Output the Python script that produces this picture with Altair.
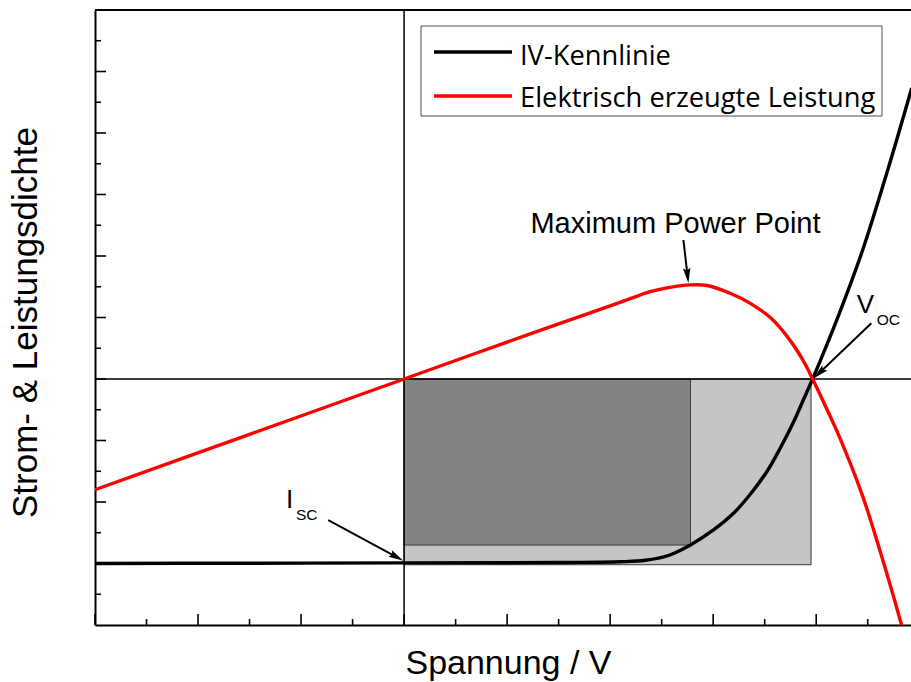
import math
import altair as alt
import pandas as pd

# IV characteristic of the solar cell (voltage, current density; arbitrary units)
iv_voltage = [-3.0, -1.5, 0.0, 1.0, 1.6, 2.099, 2.342, 2.566, 2.779, 3.003, 3.197, 3.362,
              3.528, 3.654, 3.780, 3.878, 3.965, 4.218, 4.451, 4.694, 4.927]
iv_current = [-3.00, -2.995, -2.99, -2.987, -2.983, -2.972, -2.948, -2.870, -2.699, -2.455,
              -2.184, -1.870, -1.488, -1.114, -0.699, -0.33, 0.0, 1.04, 2.098, 3.398, 4.732]

# Electrically generated power density
p_voltage = [-3.0, -1.5, 0.0, 1.0, 2.0, 2.2, 2.39, 2.58, 2.78, 2.94, 3.17, 3.36,
             3.56, 3.75, 3.88, 3.965, 4.07, 4.22, 4.45, 4.69, 4.82, 4.90]
p_power = [-1.80, -0.90, 0.0, 0.60, 1.19, 1.31, 1.42, 1.49, 1.53, 1.52, 1.39, 1.23,
           0.99, 0.62, 0.28, 0.0, -0.37, -0.92, -1.90, -3.19, -3.95, -4.45]

series_names = ["IV-Kennlinie", "Elektrisch erzeugte Leistung"]

# Characteristic points
v_oc, j_sc = 3.95, -3.02
v_mpp, j_mpp = 2.78, -2.70

# Tick positions
x_major = [-3, -2, -1, 0, 1, 2, 3, 4]
x_minor = [-2.5, -1.5, -0.5, 0.5, 1.5, 2.5, 3.5, 4.5]
y_major = [-3, -2, -1, 0, 1, 2, 3, 4, 5]
y_minor = [-3.5, -2.5, -1.5, -0.5, 0.5, 1.5, 2.5, 3.5, 4.5, 5.5]

X_DOMAIN = [-3, 4.92]
Y_DOMAIN = [-4, 6]
W, H = 816, 615
PX_X = W / (X_DOMAIN[1] - X_DOMAIN[0])
PX_Y = H / (Y_DOMAIN[1] - Y_DOMAIN[0])

FONT = "Liberation Sans"
LEGEND_FONT = "Open Sans"

xscale = alt.Scale(domain=X_DOMAIN, nice=False, zero=False)
yscale = alt.Scale(domain=Y_DOMAIN, nice=False, zero=False)
xaxis = alt.Axis(title="Spannung / V", labels=False, ticks=False, grid=False,
                 domainColor="black", domainWidth=2, titleFont=FONT, titleFontSize=34,
                 titleFontWeight="normal", titleColor="black",
                 titleBaseline="alphabetic", titleY=48, titleAlign="center", titleX=413)
yaxis = alt.Axis(title="Strom- & Leistungsdichte", labels=False, ticks=False, grid=False,
                 domainColor="black", domainWidth=2, titleFont=FONT, titleFontSize=35,
                 titleFontWeight="normal", titleColor="black", titleAngle=270,
                 titleBaseline="alphabetic", titleAlign="center", titleX=-59, titleY=312)


def X(field):
    return alt.X(field, type="quantitative", scale=xscale, axis=xaxis)


def Y(field):
    return alt.Y(field, type="quantitative", scale=yscale, axis=yaxis)


def heading(v0, j0, v1, j1):
    dx = (v1 - v0) * PX_X
    dy = -(j1 - j0) * PX_Y
    return math.degrees(math.atan2(dx, -dy)) % 360


one = pd.DataFrame({"k": [0]})

# Power rectangles: V_oc x I_sc and V_mpp x I_mpp
rect_oc = alt.Chart(pd.DataFrame({"v0": [0.0], "v1": [v_oc], "j0": [0.0], "j1": [j_sc]})).mark_rect(
    fill="#c5c5c5", stroke="#3a3a3a", strokeWidth=1
).encode(x=X("v0"), x2="v1", y=Y("j0"), y2="j1")
rect_mpp = alt.Chart(pd.DataFrame({"v0": [0.0], "v1": [v_mpp], "j0": [0.0], "j1": [j_mpp]})).mark_rect(
    fill="#838383", stroke="#3a3a3a", strokeWidth=1
).encode(x=X("v0"), x2="v1", y=Y("j0"), y2="j1")

zero_h = alt.Chart(pd.DataFrame({"j": [0.0]})).mark_rule(color="black", strokeWidth=1.5).encode(y=Y("j"))
zero_v = alt.Chart(pd.DataFrame({"v": [0.0]})).mark_rule(color="black", strokeWidth=1.5).encode(x=X("v"))

iv_line = alt.Chart(pd.DataFrame({"v": iv_voltage, "j": iv_current})).mark_line(
    color="black", strokeWidth=3.4, interpolate="catmull-rom", clip=True
).encode(x=X("v"), y=Y("j"), order="v:Q")

p_line = alt.Chart(pd.DataFrame({"v": p_voltage, "j": p_power})).mark_line(
    color="#ff0000", strokeWidth=3.4, interpolate="catmull-rom", clip=True
).encode(x=X("v"), y=Y("j"), order="v:Q")

# Annotation arrows: shaft start -> arrowhead centre
arrows = [
    (2.711, 2.260, 2.751, 1.681),     # Maximum Power Point
    (4.535, 0.906, 4.030, 0.096),     # V_oc
    (-0.736, -2.293, -0.071, -2.896), # I_sc
]
HEAD = "M0,-1L0.5,1L0,0.7L-0.5,1Z"
arrow_layers = []
for v0, j0, v1, j1 in arrows:
    df = pd.DataFrame({"v0": [v0], "j0": [j0], "v1": [v1], "j1": [j1]})
    arrow_layers.append(
        alt.Chart(df).mark_rule(color="black", strokeWidth=2).encode(
            x=X("v0"), y=Y("j0"), x2="v1", y2="j1")
    )
    arrow_layers.append(
        alt.Chart(df).mark_point(shape=HEAD, filled=True, color="black", opacity=1,
                                 size=225, strokeWidth=0,
                                 angle=heading(v0, j0, v1, j1)).encode(x=X("v1"), y=Y("j1"))
    )


def label(text, v, j, size, align="left"):
    df = pd.DataFrame({"v": [v], "j": [j], "t": [text]})
    return alt.Chart(df).mark_text(font=FONT, fontSize=size, color="black", align=align,
                                   baseline="alphabetic").encode(x=X("v"), y=Y("j"), text="t:N")


labels = [
    label("Maximum Power Point", 2.634, 2.374, 29, align="center"),
    label("V", 4.393, 1.068, 26),
    label("OC", 4.587, 0.878, 15.5),
    label("I", -1.147, -2.10, 26),
    label("SC", -1.05, -2.293, 15.5),
]

# Inward pointing ticks on the left and bottom frame
def yticks(vals, length):
    return alt.Chart(pd.DataFrame({"t": vals})).mark_rule(color="black", strokeWidth=1.6).encode(
        y=Y("t"), x=alt.value(0), x2=alt.value(length))


def xticks(vals, length):
    return alt.Chart(pd.DataFrame({"t": vals})).mark_rule(color="black", strokeWidth=1.6).encode(
        x=X("t"), y=alt.value(H), y2=alt.value(H - length))


ticks = [yticks(y_major, 11), yticks(y_minor, 6), xticks(x_major, 11), xticks(x_minor, 6)]

top_frame = alt.Chart(one).mark_rule(color="black", strokeWidth=2).encode(
    x=alt.value(0), x2=alt.value(W), y=alt.value(0))

# Legend box with line samples
legend_box = alt.Chart(one).mark_rect(fill="white", stroke="#4d4d4d", strokeWidth=1).encode(
    x=alt.value(326), x2=alt.value(787), y=alt.value(16), y2=alt.value(106))
legend_layers = [legend_box]
for name, color, ly, ty in [(series_names[0], "black", 42, 55), (series_names[1], "#ff0000", 86, 97)]:
    legend_layers.append(
        alt.Chart(one).mark_rule(color=color, strokeWidth=3.6).encode(
            x=alt.value(339), x2=alt.value(417), y=alt.value(ly)))
    legend_layers.append(
        alt.Chart(pd.DataFrame({"t": [name]})).mark_text(
            font=LEGEND_FONT, fontSize=27.3, color="black", align="left", baseline="alphabetic"
        ).encode(x=alt.value(425), y=alt.value(ty), text="t:N"))

chart = alt.layer(
    rect_oc, rect_mpp, zero_h, zero_v, iv_line, p_line,
    *arrow_layers, *labels, *ticks, top_frame, *legend_layers
).properties(
    width=W, height=H,
    padding={"left": 95, "top": 10, "right": 0, "bottom": 57},
    autosize=alt.AutoSizeParams(type="none"),
    background="white",
).configure_view(stroke=None)

chart.save("out.html", embed_options={"renderer": "svg", "actions": False})
